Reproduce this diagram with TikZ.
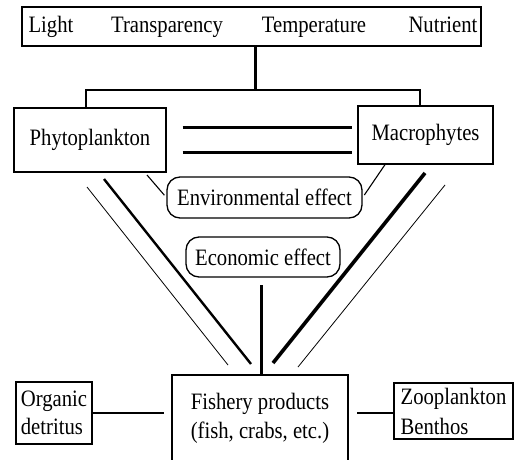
\documentclass[tikz,border=0pt]{standalone}
\usepackage{fontspec}
\setmainfont{Liberation Serif}[FakeStretch=0.88]
\begin{document}
\begin{tikzpicture}[x=1pt,y=-1pt,
  box/.style={draw, line width=1.3pt, inner sep=0pt, font=\fontsize{23.5}{29}\selectfont},
  rbox/.style={box, rounded corners=13pt},
  lbl/.style={inner sep=0pt, anchor=base, font=\fontsize{23.5}{29}\selectfont},
  thin line/.style={line width=1.1pt},
  heavy/.style={line width=3pt},
  heavier/.style={line width=3.6pt}]
\useasboundingbox[fill=white] (0,0) rectangle (517,460);
% top factor box
\node[box, minimum width=459pt, minimum height=39pt] (top) at (251.5,26.5) {};
\node[lbl] (light) at (51,33) {Light};
\node[lbl] (transp) at (167,33) {Transparency};
\node[lbl] (temp) at (314,33) {Temperature};
\node[lbl] (nutr) at (443,33) {Nutrient};
% producers
\node[box, minimum width=152pt, minimum height=64pt] (phyto) at (90,140) {Phytoplankton};
\node[box, minimum width=135pt, minimum height=58pt] (macro) at (425.5,135) {Macrophytes};
% effects
\node[rbox, minimum width=195pt, minimum height=41pt] (env) at (264.5,197.5) {Environmental effect};
\node[rbox, minimum width=154pt, minimum height=40pt] (econ) at (263,257) {Economic effect};
% bottom row
\node[box, minimum width=176pt, minimum height=86pt, align=center] (fish) at (260,418) {Fishery products\\(fish, crabs, etc.)};
\node[box, minimum width=76pt, minimum height=62pt, align=left] (org) at (54,413) {Organic\\[-1pt]detritus};
\node[box, minimum width=119pt, minimum height=56pt, align=left] (zoo) at (453.5,411) {Zooplankton\\[1pt]Benthos};
% coordinates
\coordinate (j) at (255,90);
\coordinate (jl) at (86,90);
\coordinate (jr) at (420,90);
\coordinate (pe) at (147,175);
\coordinate (me) at (385,165);
\coordinate (eco) at (261,285);
\coordinate (l1s) at (87,187);
\coordinate (l1e) at (228,365);
\coordinate (l2s) at (104,179);
\coordinate (l2e) at (251,364);
\coordinate (r2s) at (425,173);
\coordinate (r2e) at (273,363);
\coordinate (r1s) at (445,185);
\coordinate (r1e) at (298,367);
% connectors
\draw[heavy] (j |- top.south) -- (j);
\draw[thin line] (jl |- phyto.north) -- (jl) -- (jr) -- (jr |- macro.north);
\draw[heavy] ([xshift=16pt]phyto.east |- 0,127) -- ([xshift=-5pt]macro.west |- 0,127);
\draw[heavy] ([xshift=16pt]phyto.east |- 0,152) -- ([xshift=-5pt]macro.west |- 0,152);
\draw[thin line, shorten >=3pt] (pe) -- (env.west);
\draw[thin line, shorten >=3pt] (me |- macro.south) -- (env.east);
\draw[heavy] (eco) -- ([yshift=-2pt]eco |- fish.north);
\draw[line width=0.8pt] (l1s) -- (l1e);
\draw[line width=2.4pt] (l2s) -- (l2e);
\draw[heavier] (r2s) -- (r2e);
\draw[line width=0.8pt] (r1s) -- (r1e);
\draw[thin line] (org.east) -- ([xshift=-7pt]fish.west |- org.east);
\draw[thin line] (zoo.west |- 0,413) -- ([xshift=8pt]fish.east |- 0,413);
\end{tikzpicture}
\end{document}
